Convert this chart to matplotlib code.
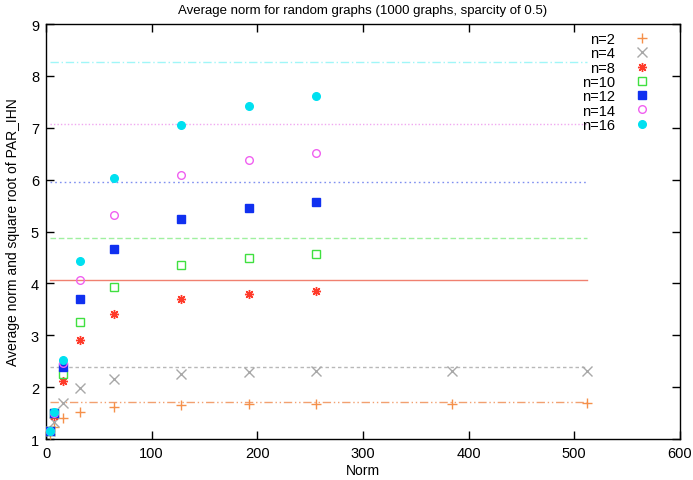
import matplotlib.pyplot as plt

plt.rcParams["font.family"] = ["Liberation Sans", "DejaVu Sans"]

# norm values on the x axis
norm_long = [4, 8, 16, 32, 64, 128, 192, 256, 384, 512]
norm_short = [4, 8, 16, 32, 64, 128, 192, 256]

avg_n2 = [1.09, 1.23, 1.40, 1.53, 1.61, 1.655, 1.67, 1.675, 1.68, 1.685]
avg_n4 = [1.15, 1.33, 1.69, 1.98, 2.16, 2.25, 2.29, 2.31, 2.32, 2.32]
avg_n8 = [1.15, 1.45, 2.12, 2.90, 3.41, 3.70, 3.80, 3.86]
avg_n10 = [1.15, 1.50, 2.25, 3.25, 3.94, 4.35, 4.49, 4.57]
avg_n12 = [1.15, 1.50, 2.39, 3.69, 4.66, 5.24, 5.45, 5.56]
avg_n14 = [1.15, 1.51, 2.46, 4.06, 5.32, 6.08, 6.37, 6.51]
avg_n16 = [1.15, 1.52, 2.53, 4.44, 6.04, 7.05, 7.42, 7.61]

# square root of PAR_IHN, one level per n
sqrt_par = [1.72, 2.39, 4.06, 4.87, 5.95, 7.07, 8.27]
line_span = [4, 512]

labels = ["n=2", "n=4", "n=8", "n=10", "n=12", "n=14", "n=16"]

series = [
    (norm_long, avg_n2, "+", "#f5904a", "none", "#f2a070", (0, (6, 2, 1, 2, 1, 2))),
    (norm_long, avg_n4, "x", "#a8a8a8", "none", "#b8b8b8", (0, (2.5, 2))),
    (norm_short, avg_n8, (8, 2, 0), "#ff3a2a", "none", "#f08070", "-"),
    (norm_short, avg_n10, "s", "#40e040", "none", "#a0f0a0", (0, (4, 2))),
    (norm_short, avg_n12, "s", "#1030f0", "#1030f0", "#8090f0", (0, (1.2, 2.2))),
    (norm_short, avg_n14, "o", "#f060f0", "none", "#f0a8f0", (0, (1, 1.5))),
    (norm_short, avg_n16, "o", "#00e0f0", "#00e0f0", "#a0f6f8", (0, (6, 2, 1, 2))),
]

fig = plt.figure(figsize=(6.93, 4.81), dpi=100)
ax = fig.add_axes([0.0664, 0.0852, 0.9146, 0.8628])

for (x, y, mk, col, fc, lcol, ls), lab, lv in zip(series, labels, sqrt_par):
    ax.plot(line_span, [lv, lv], color=lcol, ls=ls, lw=1.0, zorder=1)
    ax.plot(x, y, ls="none", marker=mk, color=col, mfc=fc, mec=col,
            ms=5.5 if mk in ("s", "o") else 6.5, mew=1.0, label=lab, zorder=3)

ax.set_xlim(0, 600)
ax.set_ylim(1, 9)
ax.set_xticks(range(0, 601, 100))
ax.set_yticks(range(1, 10))
ax.tick_params(direction="in", length=6, width=1, top=True, right=True,
               labelsize=10.5, pad=5)
for s in ax.spines.values():
    s.set_linewidth(1.0)

ax.set_title("Average norm for random graphs (1000 graphs, sparcity of 0.5)",
             fontsize=9.5, pad=8)
ax.set_xlabel("Norm", fontsize=10, labelpad=2)
ax.set_ylabel("Average norm and square root of PAR_IHN", fontsize=10, labelpad=8)

ax.legend(loc="upper right", frameon=False, markerfirst=False, fontsize=10.5,
          handlelength=1.5, handletextpad=1.1, labelspacing=0.02,
          borderaxespad=0.3, bbox_to_anchor=(0.974, 1.005))

fig.savefig("out.png", dpi=100)
